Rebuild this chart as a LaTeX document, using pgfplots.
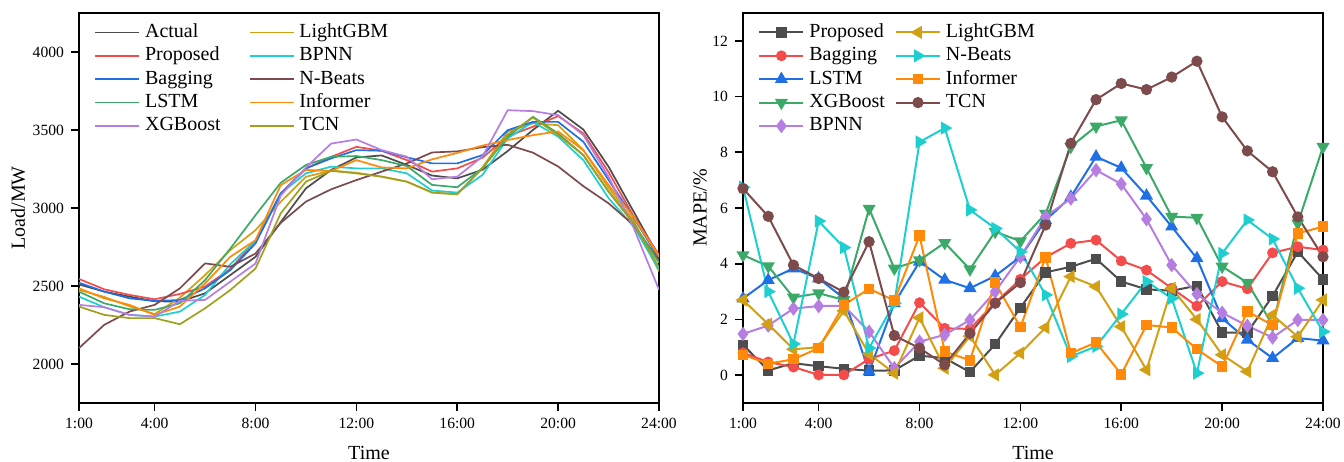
\documentclass[border=0pt]{standalone}
\usepackage{pgfplots}
\pgfplotsset{compat=1.18}
\usepackage{pgfplotstable}
\usepackage{fontspec}
\setmainfont{Liberation Serif}

\definecolor{cGrey}{HTML}{4D4D4D}
\definecolor{cRed}{HTML}{F44B4B}
\definecolor{cBlue}{HTML}{1F6FE5}
\definecolor{cGreen}{HTML}{3BAA68}
\definecolor{cPurple}{HTML}{B57EE0}
\definecolor{cGold}{HTML}{D4A013}
\definecolor{cCyan}{HTML}{1ECFD0}
\definecolor{cBrown}{HTML}{7D4B4B}
\definecolor{cOrange}{HTML}{FF8A0A}
\definecolor{cOlive}{HTML}{A0A020}

\pgfplotstableread{
h Actual Proposed Bagging LSTM XGBoost LightGBM BPNN NBeats Informer TCN
1  2510 2545 2521 2464 2379 2475 2432 2102 2485 2368
2  2464 2479 2464 2389 2364 2430 2364 2251 2421 2315
3  2432 2443 2421 2351 2315 2370 2315 2336 2379 2294
4  2402 2415 2404 2347 2304 2320 2304 2379 2315 2294
5  2400 2449 2410 2389 2405 2425 2336 2485 2368 2255
6  2453 2496 2485 2538 2411 2570 2443 2645 2517 2357
7  2570 2610 2602 2740 2528 2730 2640 2623 2687 2474
8  2687 2790 2773 2954 2644 2858 2790 2708 2794 2612
9  2910 3093 3093 3162 3080 3040 3094 2905 3147 2966
10 3126 3254 3254 3276 3260 3200 3222 3041 3244 3169
11 3244 3328 3318 3328 3413 3240 3265 3120 3238 3238
12 3324 3392 3371 3333 3439 3226 3254 3179 3307 3222
13 3337 3367 3367 3307 3371 3201 3254 3233 3260 3201
14 3276 3307 3325 3269 3329 3169 3222 3286 3254 3169
15 3208 3233 3286 3148 3184 3099 3112 3356 3312 3099
16 3190 3254 3286 3133 3201 3088 3099 3363 3353 3088
17 3245 3322 3339 3255 3330 3260 3212 3390 3400 3255
18 3365 3460 3499 3457 3627 3489 3446 3405 3436 3470
19 3500 3521 3552 3585 3621 3542 3552 3355 3467 3580
20 3623 3589 3552 3478 3595 3531 3457 3266 3491 3468
21 3503 3478 3425 3339 3467 3371 3307 3140 3370 3339
22 3265 3230 3180 3105 3200 3130 3063 3030 3148 3105
23 2975 2945 2935 2900 2871 2915 2880 2890 2940 2900
24 2685 2700 2680 2650 2476 2594 2604 2665 2690 2620
}\loadtab

\pgfplotstableread{
h Proposed Bagging LSTM XGBoost BPNN LightGBM NBeats Informer TCN
1  1.09 0.80 2.75 4.31 1.48 2.70 6.75 0.73 6.70
2  0.17 0.47 3.41 3.91 1.78 1.83 3.00 0.41 5.70
3  0.43 0.29 3.83 2.79 2.39 0.93 1.12 0.57 3.95
4  0.32 0.01 3.47 2.94 2.48 1.00 5.53 0.97 3.47
5  0.23 0.01 2.76 2.70 2.49 2.31 4.58 2.52 2.98
6  0.16 0.58 0.13 5.98 1.56 0.76 0.97 3.10 4.79
7  0.17 0.88 2.58 3.83 0.25 0.07 2.58 2.68 1.42
8  0.70 2.60 4.07 4.13 1.20 2.06 8.37 5.01 0.97
9  0.61 1.68 3.42 4.75 1.45 0.25 8.87 0.85 0.37
10 0.11 1.66 3.12 3.80 1.98 1.40 5.93 0.53 1.50
11 1.11 2.60 3.56 5.15 3.00 0.01 5.27 3.32 2.58
12 2.42 3.44 4.25 4.81 4.25 0.79 4.43 1.72 3.32
13 3.69 4.23 5.56 5.80 5.69 1.71 2.88 4.23 5.39
14 3.89 4.73 6.40 8.20 6.34 3.54 0.67 0.79 8.32
15 4.18 4.85 7.84 8.93 7.36 3.18 1.03 1.17 9.89
16 3.36 4.10 7.44 9.15 6.86 1.74 2.19 0.03 10.47
17 3.08 3.77 6.44 7.44 5.60 0.19 3.36 1.80 10.25
18 3.03 3.12 5.33 5.69 3.95 3.12 2.76 1.71 10.70
19 3.21 2.48 4.19 5.65 2.91 2.00 0.07 0.93 11.27
20 1.53 3.36 2.04 3.90 2.24 0.73 4.37 0.31 9.27
21 1.53 3.10 1.27 3.32 1.77 0.13 5.57 2.28 8.05
22 2.84 4.39 0.61 1.80 1.35 2.16 4.89 1.80 7.30
23 4.43 4.61 1.33 5.45 1.98 1.38 3.12 5.09 5.68
24 3.44 4.49 1.24 8.20 1.98 2.70 1.56 5.33 4.25
}\mapetab

\pgfplotsset{
  myaxis/.style={
    scale only axis, width=290pt, height=195pt,
    xmin=1, xmax=24,
    xtick={1,4,8,12,16,20,24},
    xticklabels={1:00,4:00,8:00,12:00,16:00,20:00,24:00},
    tick align=outside, major tick length=4pt,
    xtick pos=bottom, ytick pos=left,
    axis line style={line width=0.9pt},
    every tick/.style={line width=0.8pt, black},
    tick label style={font=\fontsize{7.8}{9}\selectfont},
    label style={font=\fontsize{10}{12}\selectfont},
    /pgf/number format/assume math mode=true,
    /pgf/number format/1000 sep={},
    scaled y ticks=false,
    xlabel=Time,
    xlabel style={at={(axis description cs:0.5,-0.128)}, anchor=center},
    legend cell align=left,
    legend columns=2,
    legend style={draw=none, fill=none, anchor=north west,
      at={(axis description cs:0.0155,0.99)},
      font=\fontsize{10}{12}\selectfont, row sep=0.6pt,
      nodes={inner sep=1pt, text height=7pt, text depth=2.1pt}},
    legend image code/.code={\draw[mark repeat=2,mark phase=2,#1] plot coordinates {(0pt,0pt) (11pt,0pt) (22pt,0pt)};},
  },
  lsty/.style={line width=0.85pt, no markers},
  msty/.style={line width=1pt, mark size=2.2pt},
}

\begin{document}
\begin{tikzpicture}
\useasboundingbox (0,0) rectangle (672pt,230.5pt);
\begin{axis}[myaxis, at={(39.5pt,29pt)}, anchor=south west,
  ymin=1750, ymax=4250, ytick={2000,2500,3000,3500,4000},
  ylabel={Load/MW},
  ylabel style={at={(axis description cs:-0.105,0.5)}, anchor=center, rotate=0},
  legend style={/tikz/every even column/.append style={column sep=13pt},
                /tikz/every odd column/.append style={column sep=1.5pt}},
]
\addplot[lsty, cGrey]   table[x=h,y=Actual]   {\loadtab};
\addplot[lsty, cGold]   table[x=h,y=LightGBM] {\loadtab};
\addplot[lsty, cRed]    table[x=h,y=Proposed] {\loadtab};
\addplot[lsty, cCyan]   table[x=h,y=BPNN]     {\loadtab};
\addplot[lsty, cBlue]   table[x=h,y=Bagging]  {\loadtab};
\addplot[lsty, cBrown]  table[x=h,y=NBeats]   {\loadtab};
\addplot[lsty, cGreen]  table[x=h,y=LSTM]     {\loadtab};
\addplot[lsty, cOrange] table[x=h,y=Informer] {\loadtab};
\addplot[lsty, cPurple] table[x=h,y=XGBoost]  {\loadtab};
\addplot[lsty, cOlive]  table[x=h,y=TCN]      {\loadtab};
\legend{Actual,LightGBM,Proposed,BPNN,Bagging,N-Beats,LSTM,Informer,XGBoost,TCN}
\end{axis}

\begin{axis}[myaxis, at={(371.5pt,29pt)}, anchor=south west,
  ymin=-1, ymax=13, ytick={0,2,4,6,8,10,12},
  ylabel={MAPE/\%},
  ylabel style={at={(axis description cs:-0.074,0.5)}, anchor=center},
  legend style={/tikz/every even column/.append style={column sep=4pt},
                /tikz/every odd column/.append style={column sep=1.5pt}},
]
\pgfplotsset{
  sProp/.style={msty, cGrey, mark=square*, mark size=2.1pt},
  sBag/.style={msty, cRed, mark=*},
  sLSTM/.style={msty, cBlue, mark=triangle*, mark size=2.8pt},
  sXGB/.style={msty, cGreen, mark=triangle*, mark size=2.8pt, every mark/.append style={rotate=180}},
  sBPNN/.style={msty, cPurple, mark=diamond*, mark size=2.8pt},
  sLGBM/.style={msty, cGold, mark=triangle*, mark size=2.8pt, every mark/.append style={rotate=90}},
  sNB/.style={msty, cCyan, mark=triangle*, mark size=2.8pt, every mark/.append style={rotate=-90}},
  sInf/.style={msty, cOrange, mark=square*, mark size=2.1pt},
  sTCN/.style={msty, cBrown, mark=*, mark size=2.3pt},
}
\addplot[sProp, forget plot] table[x=h,y=Proposed] {\mapetab};
\addplot[sBag,  forget plot] table[x=h,y=Bagging]  {\mapetab};
\addplot[sLSTM, forget plot] table[x=h,y=LSTM]     {\mapetab};
\addplot[sXGB,  forget plot] table[x=h,y=XGBoost]  {\mapetab};
\addplot[sBPNN, forget plot] table[x=h,y=BPNN]     {\mapetab};
\addplot[sLGBM, forget plot] table[x=h,y=LightGBM] {\mapetab};
\addplot[sNB,   forget plot] table[x=h,y=NBeats]   {\mapetab};
\addplot[sInf,  forget plot] table[x=h,y=Informer] {\mapetab};
\addplot[sTCN,  forget plot] table[x=h,y=TCN]      {\mapetab};
\addlegendimage{sProp}\addlegendentry{Proposed}
\addlegendimage{sLGBM}\addlegendentry{LightGBM}
\addlegendimage{sBag}\addlegendentry{Bagging}
\addlegendimage{sNB}\addlegendentry{N-Beats}
\addlegendimage{sLSTM}\addlegendentry{LSTM}
\addlegendimage{sInf}\addlegendentry{Informer}
\addlegendimage{sXGB}\addlegendentry{XGBoost}
\addlegendimage{sTCN}\addlegendentry{TCN}
\addlegendimage{sBPNN}\addlegendentry{BPNN}
\end{axis}
\end{tikzpicture}
\end{document}
